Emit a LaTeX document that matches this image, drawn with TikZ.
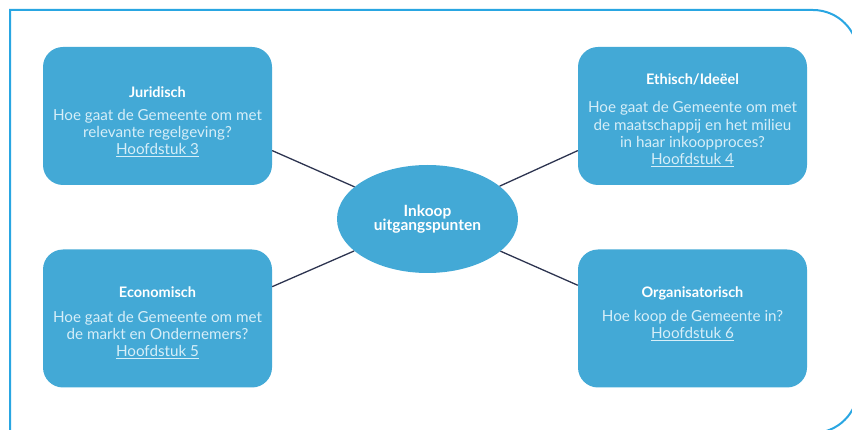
\documentclass[tikz,border=0pt]{standalone}
\usepackage{fontspec}
\setmainfont{Lato}
\usepackage{tikz}
\usetikzlibrary{calc,shapes,positioning}
\definecolor{vak}{RGB}{67,169,214}
\definecolor{lijn}{RGB}{45,52,80}
\definecolor{rand}{RGB}{41,166,226}
\definecolor{tekst}{RGB}{214,238,248}

\begin{document}
\begin{tikzpicture}[x=1pt,y=-1pt]
        \tikzstyle{vnode} = [fill=vak, rectangle, rounded corners = 20pt, minimum width = 229pt, minimum height = 138pt, inner sep = 0pt]
        \tikzstyle{enode} = [fill=vak, ellipse, minimum width = 181pt, minimum height = 108pt, inner sep = 0pt, align=center, text=white, font=\bfseries\fontsize{15.5}{14.5}\selectfont]
        \tikzstyle{tnode} = [anchor=base, inner sep = 0pt, text=white, font=\bfseries\fontsize{14.5}{17}\selectfont]
        \tikzstyle{bnode} = [anchor=base, inner sep = 0pt, align=center, text=tekst, font=\fontsize{15.2}{17.4}\selectfont]

        \useasboundingbox (0,0) rectangle (852,430);
        \clip (0,0) rectangle (852,430);

        % kader
        \draw[rand, line width=2pt] (10,470) -- (10,10) -- (500,10) [rounded corners=45pt] -- (858,10) -- (858,433) -- (500,433);

        \node[vnode] (jur) at (157.5,116) {};
        \node[vnode] (eth) at (692.5,116) {};
        \node[vnode] (eco) at (157.5,318.5) {};
        \node[vnode] (org) at (692.5,318.5) {};
        \node[enode] (cen) at (427.5,219) {Inkoop\\uitgangspunten};

        \draw[lijn, line width=1.3pt] (cen) -- ($(jur.south east)!.25!(jur.north east)$);
        \draw[lijn, line width=1.3pt] (cen) -- ($(eth.south west)!.25!(eth.north west)$);
        \draw[lijn, line width=1.3pt] (cen) -- ($(eco.north east)!.27!(eco.south east)$);
        \draw[lijn, line width=1.3pt] (cen) -- ($(org.north west)!.26!(org.south west)$);

        % tekst (base = laatste regel)
        \node[tnode] (jurT) at (157.5,98) {Juridisch};
        \node[bnode] (jurB) at (157.5,155) {Hoe gaat de Gemeente om met\\relevante regelgeving?\\\underline{Hoofdstuk 3}};

        \node[tnode] (ethT) at (692.5,85) {Ethisch/Ideëel};
        \node[bnode] (ethB) at (692.5,165) {Hoe gaat de Gemeente om met\\de maatschappij en het milieu\\in haar inkoopproces?\\\underline{Hoofdstuk 4}};

        \node[tnode] (ecoT) at (157.5,298) {Economisch};
        \node[bnode] (ecoB) at (157.5,357) {Hoe gaat de Gemeente om met\\de markt en Ondernemers?\\\underline{Hoofdstuk 5}};

        \node[tnode] (orgT) at (692.5,298) {Organisatorisch};
        \node[bnode] (orgB) at (692.5,339) {Hoe koop de Gemeente in?\\\underline{Hoofdstuk 6}};
\end{tikzpicture}
\end{document}
